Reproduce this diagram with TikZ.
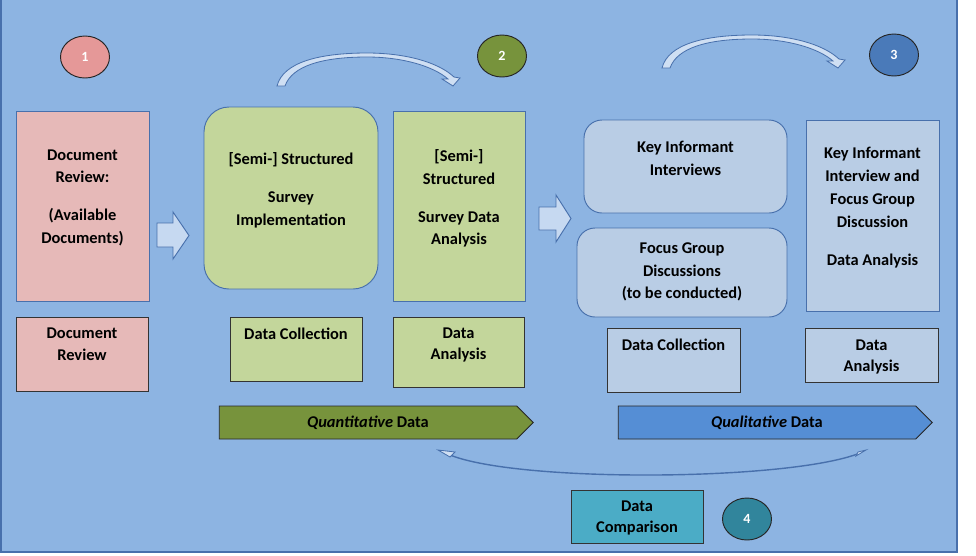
\documentclass[tikz,border=0pt]{standalone}
\usepackage{fontspec}
\setmainfont{Carlito}
\usetikzlibrary{shapes.geometric,shapes.symbols}
\definecolor{bgc}{RGB}{141,180,226}
\definecolor{edgec}{RGB}{72,112,172}
\definecolor{rvc}{RGB}{230,185,184}
\definecolor{qnc}{RGB}{195,214,155}
\definecolor{qlc}{RGB}{185,205,229}
\definecolor{onec}{RGB}{229,152,152}
\definecolor{twoc}{RGB}{119,147,60}
\definecolor{threec}{RGB}{74,122,185}
\definecolor{fourc}{RGB}{49,133,156}
\definecolor{qualc}{RGB}{85,142,213}
\definecolor{cmpc}{RGB}{75,172,198}
\definecolor{arrc}{RGB}{198,217,241}

\begin{document}
\begin{tikzpicture}[x=0.3mm, y=-0.3mm, font=\fontsize{14}{19.5}\selectfont\bfseries,
    bigbox/.style={rectangle, draw=edgec, line width=0.8pt, inner sep=0pt},
    smallbox/.style={rectangle, draw=black!80, line width=0.8pt, inner sep=0pt},
    txt/.style={anchor=north, align=center, inner sep=0pt},
    tighttxt/.style={txt, font=\fontsize{14}{18}\selectfont\bfseries},
    numnode/.style={ellipse, draw=black!85, line width=0.8pt, minimum width=14.7mm, minimum height=12.6mm, text=white, font=\fontsize{12}{14}\selectfont\bfseries},
    databar/.style={signal, signal to=east, draw=black!85, line width=0.8pt, minimum width=94.2mm, minimum height=9.9mm, inner sep=0pt},
    blockarrow/.style={draw=edgec, fill=arrc, line width=0.8pt},
    bendfill/.style={draw=edgec, fill=arrc!85!white, line width=0.7pt},
    bendarrow/.pic={
      \filldraw[bendfill] (277,86) .. controls (283,62) and (320,53) .. (367,53) .. controls (405,53) and (438,62) .. (454,77)
        -- (460,78) -- (453,86) -- (442,79) -- (448,79) .. controls (433,66) and (402,57) .. (367,57)
        .. controls (322,57) and (292,66) .. (285,86) -- cycle;
    }]

    \useasboundingbox (0,0) rectangle (976,555);
    \fill[bgc] (0,0) rectangle (958,553);
    \draw[edgec, line width=1.5pt] (1,-5) -- (1,552) -- (957,552) -- (957,-5);

    % step numbers
    \node[numnode, fill=onec] (one) at (85,57) {1};
    \node[numnode, fill=twoc] (two) at (502,56) {2};
    \node[numnode, fill=threec] (three) at (894,55) {3};
    \node[numnode, fill=fourc] (four) at (747,519) {4};

    % document review
    \node[bigbox, fill=rvc, minimum width=39.9mm, minimum height=57mm,
      label={[txt, yshift=-11.6mm]north:{Document\\Review:\\[4.5mm](Available\\Documents)}}] (docrev) at (82.5,206) {};
    \node[smallbox, fill=rvc, minimum width=39.6mm, minimum height=22.2mm,
      label={[txt, yshift=-3.2mm]north:{Document\\Review}}] (docrevs) at (82,354) {};

    % quantitative part
    \node[bigbox, fill=qnc, rounded corners=7.5mm, minimum width=52.2mm, minimum height=54.6mm,
      label={[txt, yshift=-13.7mm]north:{[Semi-] Structured\\[4.5mm]Survey\\Implementation}}] (survimpl) at (291,198) {};
    \node[bigbox, fill=qnc, minimum width=39.6mm, minimum height=57mm,
      label={[txt, yshift=-11.6mm]north:{[Semi-]\\Structured\\[4.5mm]Survey Data\\Analysis}}] (survanal) at (459,206) {};
    \node[smallbox, fill=qnc, minimum width=39.6mm, minimum height=19.2mm,
      label={[txt, yshift=-3.5mm]north:{Data Collection}}] (qncoll) at (296,349) {};
    \node[smallbox, fill=qnc, minimum width=39.3mm, minimum height=21mm,
      label={[tighttxt, yshift=-3.2mm]north:{Data\\Analysis}}] (qnanal) at (458.5,352) {};
    \node[databar, fill=twoc] (quant) at (368,422.5) {\textit{Quantitative} Data};

    % qualitative part
    \node[bigbox, fill=qlc, rounded corners=5.4mm, minimum width=60.9mm, minimum height=27.9mm,
      label={[txt, yshift=-6.5mm]north:{Key Informant\\Interviews}}] (kii) at (685.5,166.5) {};
    \node[bigbox, fill=qlc, rounded corners=5.4mm, minimum width=63mm, minimum height=26.7mm,
      label={[txt, yshift=-4.4mm]north:{Focus Group\\Discussions\\(to be conducted)}}] (fgd) at (682,272.5) {};
    \node[bigbox, fill=qlc, minimum width=39.9mm, minimum height=57.3mm,
      label={[txt, yshift=-8.3mm]north:{Key Informant\\Interview and\\Focus Group\\Discussion\\[4.5mm]Data Analysis}}] (kiifgd) at (872.5,215.5) {};
    \node[smallbox, fill=qlc, minimum width=39.9mm, minimum height=19.2mm,
      label={[txt, yshift=-3.5mm]north:{Data Collection}}] (qlcoll) at (673.5,360) {};
    \node[smallbox, fill=qlc, minimum width=39.9mm, minimum height=16.2mm,
      label={[tighttxt, yshift=-3.5mm]north:{Data\\Analysis}}] (qlanal) at (871.5,355) {};
    \node[databar, fill=qualc] (qual) at (767,422.5) {\textit{Qualitative} Data};

    % comparison
    \node[smallbox, fill=cmpc, minimum width=39.6mm, minimum height=15.9mm,
      label={[tighttxt, yshift=-3.2mm]north:{Data\\Comparison}}] (comp) at (637,516.5) {};

    % block arrows
    \filldraw[blockarrow] (157,223) -- (173,223) -- (173,212) -- (189,235.5) -- (173,259) -- (173,247) -- (157,247) -- cycle;
    \filldraw[blockarrow] (539,207) -- (556,207) -- (556,195) -- (571,218.5) -- (556,242) -- (556,230) -- (539,230) -- cycle;

    % curved arrows
    \pic at (0,0) {bendarrow};
    \pic at (385,-18) {bendarrow};
    \draw[edgec, line width=1.2pt] (860,453) .. controls (790,481) and (520,483) .. (450,455);
    \filldraw[bendfill] (438,450) -- (455,452) -- (450,457) -- cycle;
    \filldraw[bendfill] (866,450) -- (858,452) -- (856,456) -- cycle;

\end{tikzpicture}
\end{document}
